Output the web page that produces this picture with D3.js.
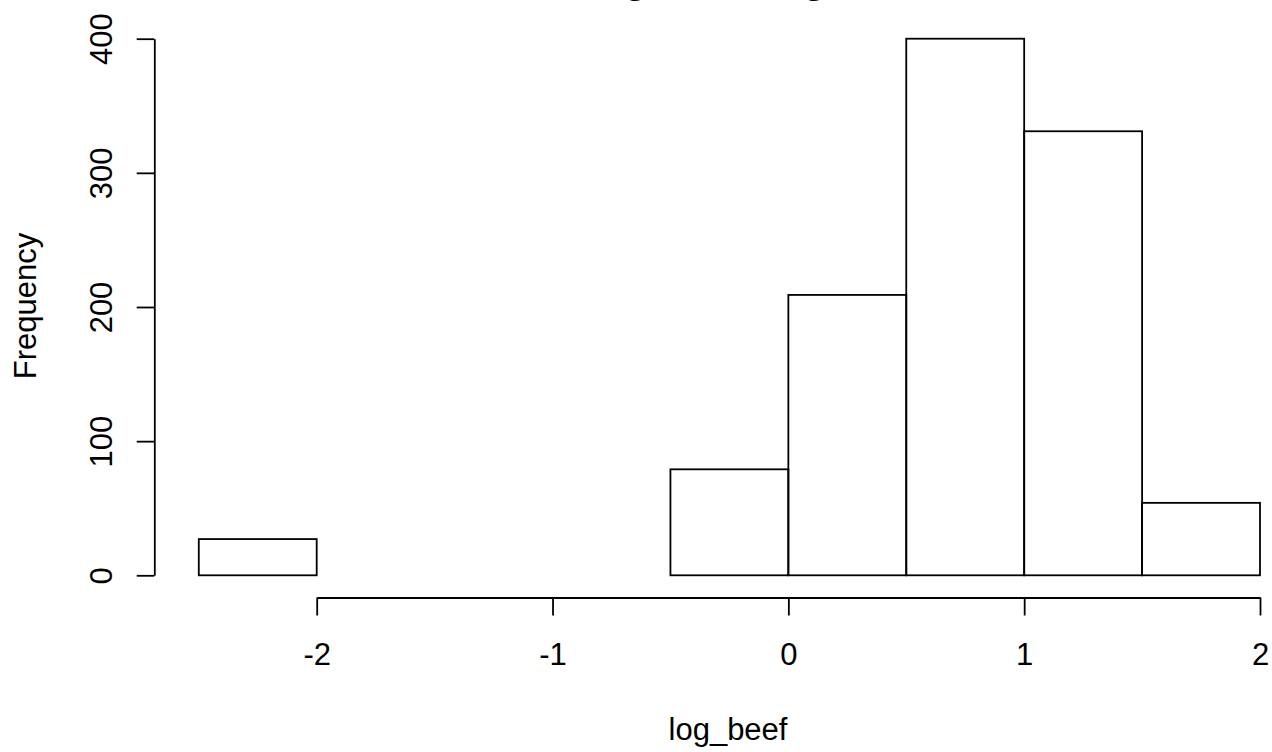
<!DOCTYPE html>
<html>
<head>
<meta charset="utf-8">
<script src="https://cdn.jsdelivr.net/npm/d3@7"></script>
<style>
  html, body { margin: 0; padding: 0; background: #ffffff; }
  svg { display: block; }
  text { font-family: "Liberation Sans", Arial, sans-serif; fill: #000; }
</style>
</head>
<body>
<script>
// ---- data ----
const binStarts = [-2.5, -2, -1.5, -1, -0.5, 0, 0.5, 1, 1.5];
const binEnds   = [-2, -1.5, -1, -0.5, 0, 0.5, 1, 1.5, 2];
const counts    = [27, 0, 0, 0, 79, 209, 400, 331, 54];
const xTicks = [-2, -1, 0, 1, 2];
const yTicks = [0, 100, 200, 300, 400];
const titleText = "Histogram of log_beef";
const xLabel = "log_beef";
const yLabel = "Frequency";

// ---- layout ----
const W = 1272, H = 752;
const svg = d3.select("body").append("svg").attr("width", W).attr("height", H);

const x = d3.scaleLinear().domain([-2, 2]).range([316.7, 1260]);
const y = d3.scaleLinear().domain([0, 400]).range([575.3, 38.7]);
const axisLeftX = 154.3;
const axisBottomY = 597.5;
const plotCx = 728, plotCy = 306;
const lineW = 1.8;

// bars
svg.append("g").selectAll("rect")
  .data(counts)
  .join("rect")
  .attr("x", (d, i) => x(binStarts[i]))
  .attr("width", (d, i) => x(binEnds[i]) - x(binStarts[i]))
  .attr("y", d => y(d))
  .attr("height", d => y(0) - y(d))
  .attr("fill", "none")
  .attr("stroke", "#000")
  .attr("stroke-width", lineW);

// y axis
const yAxis = svg.append("g")
  .attr("transform", `translate(${axisLeftX},0)`)
  .call(d3.axisLeft(y).tickValues(yTicks).tickSize(17.6).tickSizeOuter(0).tickFormat(d3.format("d")));
yAxis.selectAll("path, line").attr("stroke", "#000").attr("stroke-width", lineW);
yAxis.selectAll("text")
  .attr("x", null).attr("dy", null)
  .attr("text-anchor", "middle")
  .attr("transform", "translate(-42.6,0) rotate(-90)")
  .style("font-size", "31px")
  .style("font-family", '"Liberation Sans", Arial, sans-serif')
  .attr("fill", "#000");

// x axis
const xAxis = svg.append("g")
  .attr("transform", `translate(0,${axisBottomY})`)
  .call(d3.axisBottom(x).tickValues(xTicks).tickSize(18).tickSizeOuter(0).tickFormat(d3.format("d")));
xAxis.selectAll("path, line").attr("stroke", "#000").attr("stroke-width", lineW);
xAxis.selectAll("text")
  .attr("y", 67.5).attr("dy", null)
  .attr("text-anchor", "middle")
  .style("font-size", "31px")
  .style("font-family", '"Liberation Sans", Arial, sans-serif')
  .attr("fill", "#000");
// plain hyphen-minus like R
xAxis.selectAll("text").text(d => String(d));

// axis labels
svg.append("text")
  .attr("x", plotCx).attr("y", 740)
  .attr("text-anchor", "middle")
  .style("font-size", "31px")
  .text(xLabel);

svg.append("text")
  .attr("transform", `translate(35.7,${plotCy}) rotate(-90)`)
  .attr("text-anchor", "middle")
  .style("font-size", "31px")
  .text(yLabel);

// title (mostly above the visible area, as in the reference)
svg.append("text")
  .attr("x", 727).attr("y", -6.8)
  .attr("text-anchor", "middle")
  .style("font-size", "37px")
  .style("font-weight", "bold")
  .text(titleText);
</script>
</body>
</html>
